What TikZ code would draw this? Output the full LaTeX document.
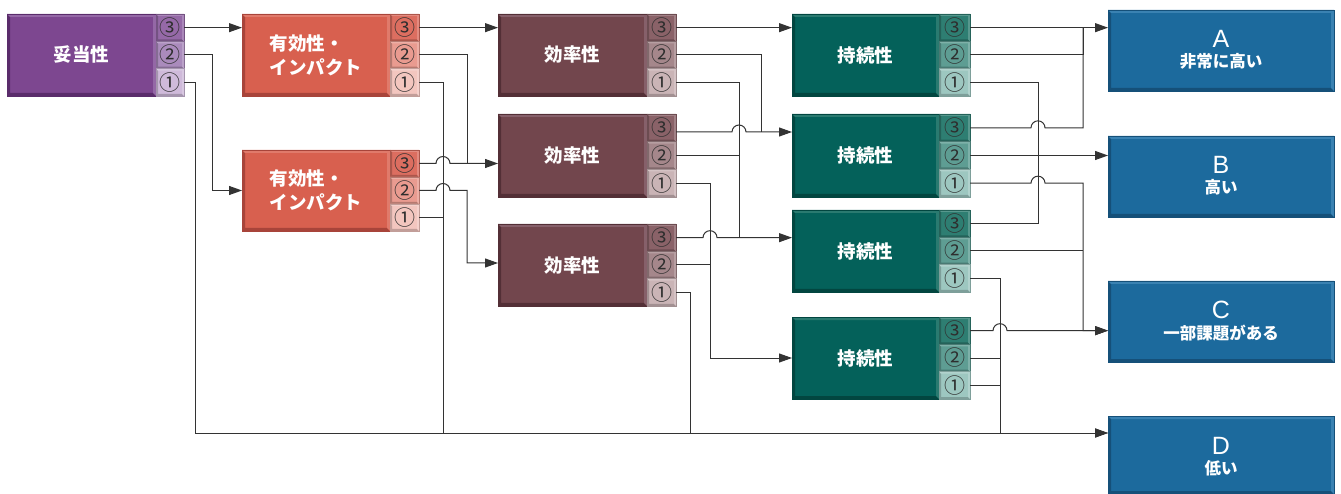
\documentclass[tikz,border=0pt]{standalone}
\usepackage{fontspec}
\newfontfamily\jp{Noto Sans CJK JP}
\newfontfamily\lat{Liberation Sans}
\usetikzlibrary{arrows.meta,calc}
% purple
\definecolor{pum}{HTML}{7D4790}\definecolor{pud}{HTML}{5A2C6B}\definecolor{pul}{HTML}{9468A6}
\definecolor{put3}{HTML}{9569A7}\definecolor{put2}{HTML}{AA8BBC}\definecolor{put1}{HTML}{CFBADA}
% red
\definecolor{rem}{HTML}{D8604F}\definecolor{red}{HTML}{A8443A}\definecolor{rel}{HTML}{E07A6B}
\definecolor{ret3}{HTML}{DC6E60}\definecolor{ret2}{HTML}{E99B90}\definecolor{ret1}{HTML}{F3C6BF}
% maroon
\definecolor{mam}{HTML}{72464D}\definecolor{mad}{HTML}{532F36}\definecolor{mal}{HTML}{86606A}
\definecolor{mat3}{HTML}{8A6268}\definecolor{mat2}{HTML}{A5878B}\definecolor{mat1}{HTML}{CAB4B6}
% teal
\definecolor{tem}{HTML}{04615A}\definecolor{ted}{HTML}{024640}\definecolor{tel}{HTML}{2A7A70}
\definecolor{tet3}{HTML}{2E7E72}\definecolor{tet2}{HTML}{5E9D93}\definecolor{tet1}{HTML}{9DC7C0}
% blue
\definecolor{blm}{HTML}{1C6A9D}\definecolor{bld}{HTML}{155079}\definecolor{bll}{HTML}{3A82B2}
\definecolor{lnc}{HTML}{333333}
\tikzset{
  mainbox/.style={rectangle,inner sep=0pt,outer sep=0pt,text=white,
    font=\jp\bfseries\fontsize{18.5}{24}\selectfont,align=left},
  tabbox/.style={rectangle,inner sep=0pt,outer sep=0pt,text=black!82,
    font=\jp\fontsize{21}{21}\selectfont},
  resbox/.style={rectangle,inner sep=0pt,outer sep=0pt,fill=blm},
  reslet/.style={anchor=base,inner sep=0pt,text=white,font=\lat\fontsize{25}{25}\selectfont},
  ressub/.style={anchor=base,inner sep=0pt,text=white,font=\jp\bfseries\fontsize{16.5}{16.5}\selectfont},
  conn/.style={draw=lnc,line width=1pt},
  arr/.style={conn,-{Triangle[length=13pt,width=9pt]}},
}
\newcommand\bevel[4]{%
  \fill[#2] (#1.north west) -- (#1.south west) -- (#1.south east)
    -- ([shift={(-#4,#4)}]#1.south east) -- ([shift={(#4,#4)}]#1.south west)
    -- ([shift={(#4,-#4)}]#1.north west) -- cycle;
  \fill[#3] (#1.north west) -- (#1.north east) -- (#1.south east)
    -- ([shift={(-#4,#4)}]#1.south east) -- ([shift={(-#4,-#4)}]#1.north east)
    -- ([shift={(#4,-#4)}]#1.north west) -- cycle;
  \draw[#2,line width=0.5pt] (#1.north west) rectangle (#1.south east);
}
% name, x1, x2, x3, y1, y2, colour prefix, text
\newcommand\mkstage[8]{%
  \node[mainbox,fill=#7m,minimum width={(#3-#2)*1pt},minimum height={(#6-#5)*1pt}]
    (#1) at ({(#2+#3)/2},{(#5+#6)/2}) {};
  \bevel{#1}{#7d}{#7l}{3pt}
  \node[mainbox] (#1txt) at (#1.center) {#8};
  \node[tabbox,fill=#7t3,minimum width={(#4-#3)*1pt},minimum height={(#6-#5)/3*1pt}]
    (#1c) at ({(#3+#4)/2},{#5+(#6-#5)/6}) {};
  \bevel{#1c}{#7t3!78!black}{#7t3!80!white}{2pt}
  \node[tabbox] (#1ct) at (#1c.center) {③};
  \node[tabbox,fill=#7t2,minimum width={(#4-#3)*1pt},minimum height={(#6-#5)/3*1pt}]
    (#1b) at ({(#3+#4)/2},{(#5+#6)/2}) {};
  \bevel{#1b}{#7t2!78!black}{#7t2!80!white}{2pt}
  \node[tabbox] (#1bt) at (#1b.center) {②};
  \node[tabbox,fill=#7t1,minimum width={(#4-#3)*1pt},minimum height={(#6-#5)/3*1pt}]
    (#1a) at ({(#3+#4)/2},{#6-(#6-#5)/6}) {};
  \bevel{#1a}{#7t1!80!black}{#7t1!80!white}{2pt}
  \node[tabbox] (#1at) at (#1a.center) {①};
}
% name, x1, y1, x2, y2, letter, subtitle
\newcommand\mkres[7]{%
  \node[resbox,minimum width={(#4-#2)*1pt},minimum height={(#5-#3)*1pt}]
    (#1) at ({(#2+#4)/2},{(#3+#5)/2}) {};
  \bevel{#1}{bld}{bll}{3pt}
  \node[reslet] (#1let) at ({(#2+#4)/2},{#3+38}) {#6};
  \node[ressub] (#1sub) at ({(#2+#4)/2},{#3+58}) {#7};
}
\begin{document}
\begin{tikzpicture}[x=1pt,y=-1pt]
\useasboundingbox[fill=white] (0,0) rectangle (1341,494);
% stages
\mkstage{V}{7}{156}{184}{14}{96}{pu}{妥当性}
\mkstage{EA}{242}{390}{419}{14}{96}{re}{有効性・\\インパクト}
\mkstage{EB}{242}{390}{419}{150}{231}{re}{有効性・\\インパクト}
\mkstage{FA}{498}{647}{676}{14}{96}{ma}{効率性}
\mkstage{FB}{498}{647}{676}{114}{197}{ma}{効率性}
\mkstage{FC}{498}{647}{676}{224}{306}{ma}{効率性}
\mkstage{SA}{792}{939}{970}{14}{96}{te}{持続性}
\mkstage{SB}{792}{939}{970}{114}{197}{te}{持続性}
\mkstage{SC}{792}{939}{970}{210}{292}{te}{持続性}
\mkstage{SD}{792}{939}{970}{317}{399}{te}{持続性}
% results
\mkres{A}{1108}{10}{1334}{91}{A}{非常に高い}
\mkres{B}{1108}{136}{1334}{217}{B}{高い}
\mkres{C}{1108}{281}{1334}{362}{C}{一部課題がある}
\mkres{D}{1108}{416}{1334}{494}{D}{低い}
% bus lines
\coordinate (b195) at (195,0);
\coordinate (b212) at (212,0);
\coordinate (b443) at (443,0);
\coordinate (b467) at (467,0);
\coordinate (b690) at (690,0);
\coordinate (b710) at (710,0);
\coordinate (b739) at (739,0);
\coordinate (b761) at (761,0);
\coordinate (b1000) at (1000,0);
\coordinate (b1038) at (1038,0);
\coordinate (b1083) at (1083,0);
% entry points
\coordinate (F2in) at (EBc.east -| FB.west);
\coordinate (F3in) at ($(FC.north west)+(0,-39pt)$);
\coordinate (S2in) at ($(SB.north west)+(0,-18pt)$);
\coordinate (S3in) at (FCc.east -| SC.west);
\coordinate (Ain) at (SAc.east -| A.west);
\coordinate (Bin) at (SBb.east -| B.west);
\coordinate (Cin) at (SDc.east -| C.west);
\coordinate (Din) at ($(D.north west)+(0,-17pt)$);
% 妥当性
\draw[arr] (Vc.east) -- (Vc.east -| EA.west);
\draw[arr] (Vb.east) -- (Vb.east -| b212) -- (b212 |- EB.west) -- (EB.west);
\draw[arr] (Va.east) -- (Va.east -| b195) -- (b195 |- Din) -- (Din);
% 有効性 A
\draw[arr] (EAc.east) -- (EAc.east -| FA.west);
\draw[conn] (EAb.east) -- (EAb.east -| b467) -- (b467 |- F2in);
\draw[conn] (EAa.east) -- (EAa.east -| b443) -- (b443 |- Din);
% 有効性 B
\draw[arr] (EBc.east) -- ($(EBc.east -| b443)+(-7pt,0)$) arc[start angle=180,end angle=0,radius=7pt] -- (F2in);
\draw[arr] (EBb.east) -- ($(EBb.east -| b443)+(-7pt,0)$) arc[start angle=180,end angle=0,radius=7pt]
  -- (EBb.east -| b467) -- (b467 |- F3in) -- (F3in);
\draw[conn] (EBa.east) -- (EBa.east -| b443);
% 効率性 A
\draw[arr] (FAc.east) -- (FAc.east -| SA.west);
\draw[conn] (FAb.east) -- (FAb.east -| b761) -- (b761 |- S2in);
\draw[conn] (FAa.east) -- (FAa.east -| b739) -- (b739 |- S3in);
% 効率性 B
\draw[arr] (S2in -| FBc.east) -- ($(S2in -| b739)+(-7pt,0)$) arc[start angle=180,end angle=0,radius=7pt] -- (S2in);
\draw[conn] (FBb.east) -- (FBb.east -| b739);
\draw[arr] (FBa.east) -- (FBa.east -| b710) -- (b710 |- SD.west) -- (SD.west);
% 効率性 C
\draw[arr] (FCc.east) -- ($(FCc.east -| b710)+(-7pt,0)$) arc[start angle=180,end angle=0,radius=7pt] -- (S3in);
\draw[conn] (FCb.east) -- (FCb.east -| b710);
\draw[conn] (FCa.east) -- (FCa.east -| b690) -- (b690 |- Din);
% 持続性 A
\draw[arr] (SAc.east) -- (Ain);
\draw[conn] (SAb.east) -- (SAb.east -| b1083) -- (b1083 |- Ain);
\draw[conn] (SAa.east) -- (SAa.east -| b1038) -- (b1038 |- SCc.east);
% 持続性 B
\draw[conn] (SBc.east) -- ($(SBc.east -| b1038)+(-7pt,0)$) arc[start angle=180,end angle=0,radius=7pt]
  -- (SBc.east -| b1083) -- (b1083 |- Ain);
\draw[arr] (SBb.east) -- (Bin);
\draw[arr] (SBa.east) -- ($(SBa.east -| b1038)+(-7pt,0)$) arc[start angle=180,end angle=0,radius=7pt]
  -- (SBa.east -| b1083) -- (b1083 |- Cin) -- (Cin);
% 持続性 C
\draw[conn] (SCc.east) -- (SCc.east -| b1038);
\draw[conn] (SCb.east) -- (SCb.east -| b1083);
\draw[arr] (SCa.east) -- (SCa.east -| b1000) -- (b1000 |- Din) -- (Din);
% 持続性 D
\draw[arr] (SDc.east) -- ($(SDc.east -| b1000)+(-7pt,0)$) arc[start angle=180,end angle=0,radius=7pt] -- (Cin);
\draw[conn] (SDb.east) -- (SDb.east -| b1000);
\draw[conn] (SDa.east) -- (SDa.east -| b1000);
\end{tikzpicture}
\end{document}
